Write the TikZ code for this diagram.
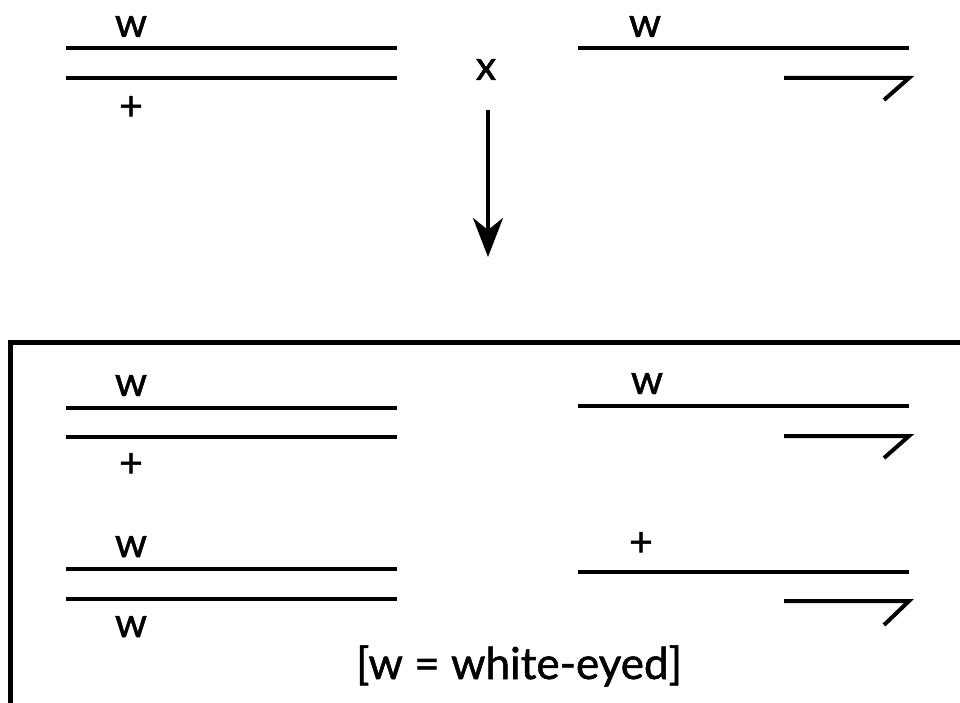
\documentclass[tikz,border=0pt]{standalone}
\usepackage{fontspec}
\setmainfont{Lato}
\newfontfamily\gillish{Lato}[FakeBold=1.2]
\usetikzlibrary{arrows.meta}
\begin{document}
\begin{tikzpicture}[x=1pt,y=-1pt,
  chrom/.style={line width=4pt},
  ylabel/.style={font=\gillish\fontsize{41}{43}\selectfont, inner sep=0pt, anchor=base},
  caption/.style={font=\gillish\fontsize{44}{46}\selectfont, inner sep=0pt, anchor=base},
  frame/.style={line width=5pt},
  cross/.style={line width=4pt, -{Stealth[length=39pt,width=30pt,inset=12pt]}}]
\useasboundingbox (0,0) rectangle (960,703);
\begin{scope}
\clip (0,0) rectangle (960,703);
% top-left pair
\coordinate (a1) at (66,48); \coordinate (a2) at (397,48);
\coordinate (b1) at (66,78); \coordinate (b2) at (397,78);
\draw[chrom] (a1) -- (a2);
\draw[chrom] (b1) -- (b2);
\node[ylabel] (la) at (131,37) {w};
\node[ylabel] (lb) at (131,120) {+};
% cross sign
\node[ylabel] (cx) at (486,80) {x};
% top-right
\coordinate (c1) at (578,48); \coordinate (c2) at (909,48);
\draw[chrom] (c1) -- (c2);
\node[ylabel] (lc) at (645,37) {w};
\coordinate (y1) at (784,78); \coordinate (y2) at (909,78); \coordinate (y3) at (884,100);
\draw[chrom] (y1) -- (y2) -- (y3);
% arrow
\coordinate (ar1) at (488,110); \coordinate (ar2) at (488,257);
\draw[cross] (ar1) -- (ar2);
% frame
\coordinate (f1) at (10.5,342.5); \coordinate (f2) at (1000,760);
\draw[frame] (f1) rectangle (f2);
% bottom first row
\coordinate (d1) at (66,408); \coordinate (d2) at (397,408);
\coordinate (e1) at (66,437); \coordinate (e2) at (397,437);
\draw[chrom] (d1) -- (d2);
\draw[chrom] (e1) -- (e2);
\node[ylabel] (ld) at (131,396) {w};
\node[ylabel] (le) at (131,477) {+};
\coordinate (g1) at (578,406); \coordinate (g2) at (909,406);
\draw[chrom] (g1) -- (g2);
\node[ylabel] (lg) at (647,394) {w};
\coordinate (z1) at (784,436); \coordinate (z2) at (909,436); \coordinate (z3) at (884,458);
\draw[chrom] (z1) -- (z2) -- (z3);
% bottom second row
\coordinate (h1) at (66,569); \coordinate (h2) at (397,569);
\coordinate (i1) at (66,599); \coordinate (i2) at (397,599);
\draw[chrom] (h1) -- (h2);
\draw[chrom] (i1) -- (i2);
\node[ylabel] (lh) at (131,557) {w};
\node[ylabel] (li) at (131,637) {w};
\coordinate (j1) at (578,572); \coordinate (j2) at (909,572);
\draw[chrom] (j1) -- (j2);
\node[ylabel] (lj) at (641,556) {+};
\coordinate (k1) at (784,601); \coordinate (k2) at (909,601); \coordinate (k3) at (884,625);
\draw[chrom] (k1) -- (k2) -- (k3);
% caption
\node[caption] (cap) at (519,679) {[w = white-eyed]};
\end{scope}
\end{tikzpicture}
\end{document}
